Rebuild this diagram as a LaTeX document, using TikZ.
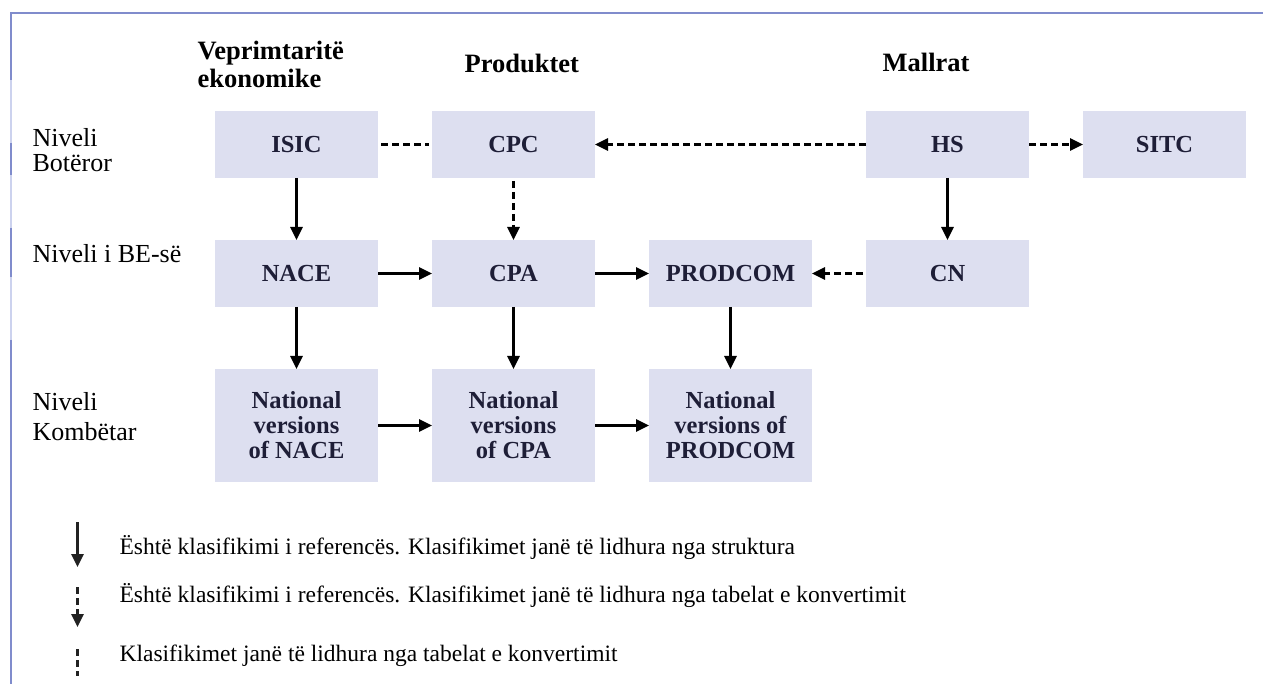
\documentclass[tikz,border=0pt]{standalone}
\usepackage{fontspec}
\setmainfont{Liberation Serif}
\usepackage{tikz}
\usetikzlibrary{arrows.meta, positioning, graphs}
\definecolor{boxfill}{RGB}{221,223,240}
\definecolor{frameblue}{RGB}{128,140,204}
\definecolor{framelight}{RGB}{204,210,238}
\definecolor{boxtext}{RGB}{30,30,55}
\definecolor{linegray}{RGB}{34,34,34}
\tikzset{
node distance=62pt and 54pt,
>={Triangle[length=13pt,width=12pt]},
linegray,
text=black,
graphs/every graph/.style={edges={line width=2.6pt}},
conv/.style={dash pattern=on 7pt off 4pt},
keyline/.style={draw=linegray, line width=2.6pt},
box/.style={%
    rectangle,
    fill=boxfill,
    minimum width=163pt,
    minimum height=67pt,
    inner sep=0pt,
    outer sep=0pt,
    align=center,
    text=boxtext,
    % Font
    font=\fontsize{24.5}{25}\selectfont\bfseries
},
tallbox/.style={%
    box, minimum height=113pt
},
level/.style={anchor=base west, align=left, font=\fontsize{26}{25}\selectfont},
heading/.style={level, font=\fontsize{26.5}{28}\selectfont\bfseries},
legend/.style={anchor=base west, font=\fontsize{23.5}{26}\selectfont},
}

\begin{document}
\begin{tikzpicture}[x=1pt, y=-1pt, line width=2.6pt]
	\useasboundingbox (0,0) rectangle (1263,684);
	% frame
	\draw[framelight, line width=2pt] (11,684) -- (11,13) -- (1263,13);
	\draw[frameblue, line width=2.5pt] (1263,13) -- (11,13) -- (11,80);
	\draw[frameblue, line width=2.5pt] (11,143) -- (11,175);
	\draw[frameblue, line width=2.5pt] (11,228) -- (11,277);
	\draw[frameblue, line width=2.5pt] (11,340) -- (11,684);

	\node[heading] (hact) at (193,88) {Veprimtaritë\\ekonomike};
	\node[heading] (hprod) at (460,73) {Produktet};
	\node[heading] (hgoods) at (878,72) {Mallrat};

	\node[level] (lworld) at (28,172) {Niveli\\Botëror};
	\node[level] (leu) at (28,263) {Niveli i BE-së};
	\node[level] (lnat) at (28,440) {Niveli\\[5pt]Kombëtar};

	\node[box] (isic) at (296.5,144.5) {ISIC};
	\node[box, below=of isic] (nace) {NACE};
	\node[box, right=of nace] (cpa) {CPA};
	\node[box, right=of cpa] (prodcom) {PRODCOM};
	\node[box, right=of prodcom] (cn) {CN};
	\node[box, above=of cn] (hs) {HS};
	\node[box, right=of hs] (sitc) {SITC};
	\node[box, above=of cpa] (cpc) {CPC};
	\node[tallbox, below=of nace] (natnace) {National\\versions\\of NACE};
	\node[tallbox, right=of natnace] (natcpa) {National\\versions\\of CPA};
	\node[tallbox, right=of natcpa] (natprod) {National\\versions of\\PRODCOM};

\graph [use existing nodes] {
isic -> nace -> natnace;
cpa -> natcpa;
prodcom -> natprod;
hs -> cn;
nace -> cpa -> prodcom;
natnace -> natcpa -> natprod;
isic --[conv, shorten <=3pt, shorten >=3pt] cpc;
hs ->[conv] cpc;
hs ->[conv] sitc;
cpc ->[conv, shorten <=3pt] cpa;
cn ->[conv, shorten <=3pt] prodcom;
};

	% legend
	\coordinate (k1) at (77.5,522);
	\coordinate (k2) at (77.5,567);
	\coordinate (k3) at (77.5,587);
	\coordinate (k4) at (77.5,627);
	\coordinate (k5) at (77.5,649);
	\coordinate (k6) at (77.5,676);
	\draw[keyline, ->] (k1) -- (k2);
	\draw[keyline, ->, conv] (k3) -- (k4);
	\draw[keyline, conv] (k5) -- (k6);
	\node[legend] (t1) at (115,554) {Është klasifikimi i referencës. Klasifikimet janë të lidhura nga struktura};
	\node[legend] (t2) at (115,602) {Është klasifikimi i referencës. Klasifikimet janë të lidhura nga tabelat e konvertimit};
	\node[legend] (t3) at (115,661) {Klasifikimet janë të lidhura nga tabelat e konvertimit};
\end{tikzpicture}
\end{document}
